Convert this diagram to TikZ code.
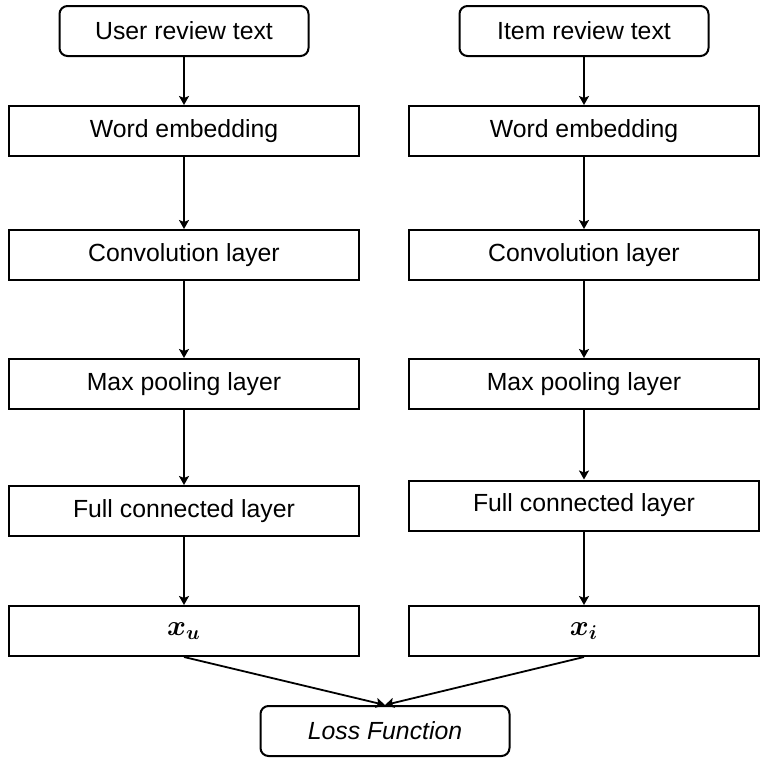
\documentclass[tikz,border=0pt]{standalone}
\usepackage{fontspec}
\usepackage{amsmath}
\setmainfont{Liberation Sans}
\usetikzlibrary{arrows.meta}
\tikzset{
  layer/.style={draw, line width=1pt, minimum width=175pt, minimum height=25pt, inner sep=0pt, font=\fontsize{12.4}{14}\selectfont},
  inbox/.style={layer, rounded corners=4pt, minimum width=124.5pt},
  vecbox/.style={layer, font=\fontsize{14.5}{16}\selectfont},
  flow/.style={line width=0.9pt, -{Stealth[length=4.5pt, width=5pt, inset=1pt]}}
}
\begin{document}
\begin{tikzpicture}[x=0.5pt, y=-0.5pt]
    \useasboundingbox (0,0) rectangle (778,760);
    % user side
    \node[inbox] (uText) at (184,31) {User review text};
    \node[layer] (uEmb)  at (184,131) {Word embedding};
    \node[layer] (uConv) at (184,255) {Convolution layer};
    \node[layer] (uPool) at (184,384) {Max pooling layer};
    \node[layer] (uFull) at (184,511) {Full connected layer};
    \node[vecbox] (xu)   at (184,631) {$\boldsymbol{x_u}$};
    % item side
    \node[inbox] (iText) at (584,31) {Item review text};
    \node[layer] (iEmb)  at (584,131) {Word embedding};
    \node[layer] (iConv) at (584,255) {Convolution layer};
    \node[layer] (iPool) at (584,384) {Max pooling layer};
    \node[layer] (iFull) at (584,505.5) {Full connected layer};
    \node[vecbox] (xi)   at (584,631) {$\boldsymbol{x_i}$};
    % loss
    \node[inbox, font=\fontsize{12.4}{14}\selectfont\itshape] (loss) at (385,731) {Loss Function};
    \draw[flow] (uText) -- (uEmb);
    \draw[flow] (uEmb) -- (uConv);
    \draw[flow] (uConv) -- (uPool);
    \draw[flow] (uPool) -- (uFull);
    \draw[flow] (uFull) -- (xu);
    \draw[flow] (iText) -- (iEmb);
    \draw[flow] (iEmb) -- (iConv);
    \draw[flow] (iConv) -- (iPool);
    \draw[flow] (iPool) -- (iFull);
    \draw[flow] (iFull) -- (xi);
    \draw[flow] (xu.south) -- (loss.north);
    \draw[flow] (xi.south) -- (loss.north);
  \end{tikzpicture}
\end{document}
